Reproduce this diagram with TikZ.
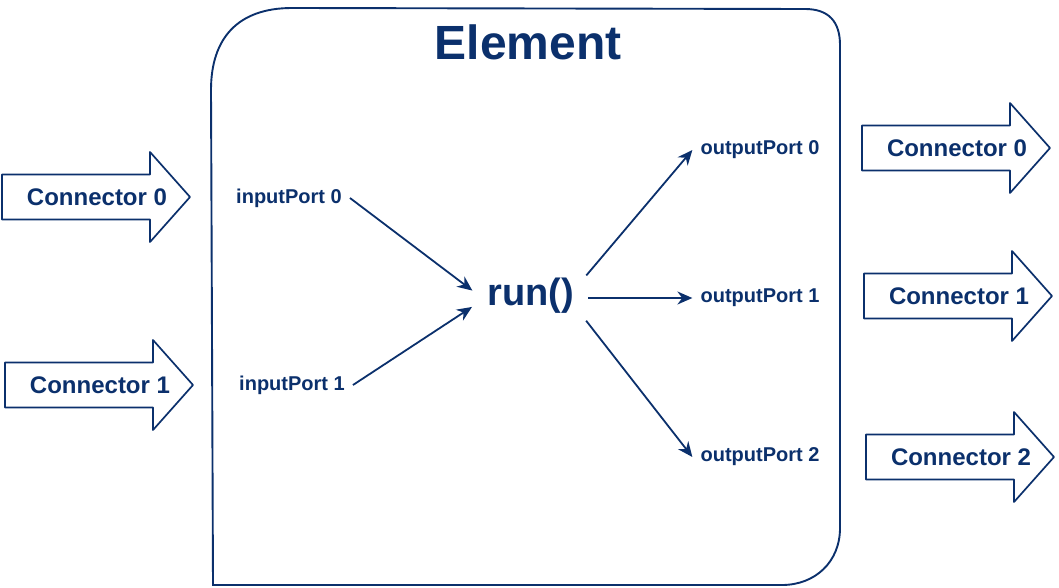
\documentclass[tikz,border=0pt]{standalone}
\usepackage{fontspec}
\setmainfont{Liberation Sans}
\usepackage{tikz}
\usetikzlibrary{arrows.meta}
\definecolor{navy}{RGB}{11,48,108}
\tikzset{
  port/.style={text=navy, font=\bfseries\fontsize{20}{24}\selectfont, inner sep=8pt},
  connlabel/.style={text=navy, font=\bfseries\fontsize{24}{28}\selectfont},
  flow/.style={draw=navy, line width=1.8pt, -{Stealth[length=15pt,width=13pt]}},
  bigarrow/.style={draw=navy, line width=1.7pt, line join=round, fill=white},
  frame/.style={draw=navy, line width=1.9pt}
}
\newcommand{\connarrow}[4]{%
  \draw[bigarrow] (#1,#2-22.5) -- (#1+148,#2-22.5) -- (#1+148,#2-45) -- (#1+188,#2) -- (#1+148,#2+45) -- (#1+148,#2+22.5) -- (#1,#2+22.5) -- cycle;
  \node[connlabel] (#3) at (#1+95,#2) {#4};
}

\begin{document}
\begin{tikzpicture}[x=1pt,y=-1pt]
\useasboundingbox (0,0) rectangle (1059,588);
\draw[frame] (213,585) -- (211,90) .. controls (211,38) and (238,8) .. (292,8) -- (805,9) .. controls (829,9) and (840,22) .. (840,45) -- (840,528) .. controls (840,562) and (815,585) .. (782,585) -- cycle;
\node[text=navy, font=\bfseries\fontsize{48}{56}\selectfont] (title) at (528,42) {Element};
\node[text=navy, font=\bfseries\fontsize{38}{44}\selectfont, inner sep=8pt] (run) at (531,296) {run()};
\node[port] (in0) at (289,198) {inputPort 0};
\node[port] (in1) at (292,385) {inputPort 1};
\node[port] (out0) at (760,150) {outputPort 0};
\node[port] (out1) at (760,298) {outputPort 1};
\node[port] (out2) at (760,457) {outputPort 2};
\draw[flow, shorten >=9pt] (in0.east) -- (run.west);
\draw[flow, shorten >=9pt] (in1.east) -- ([yshift=-6pt]run.west);
\draw[flow, shorten <=6pt] ([yshift=16pt]run.east) -- (out0.west);
\draw[flow, shorten <=6pt] ([yshift=-2pt]run.east) -- (out1.west);
\draw[flow, shorten <=6pt] ([yshift=-20pt]run.east) -- (out2.west);
\foreach \x/\y/\n/\t in {2/197/cin0/Connector 0, 5/385/cin1/Connector 1, 862/148/cout0/Connector 0, 864/296/cout1/Connector 1, 866/457/cout2/Connector 2}
  {\connarrow{\x}{\y}{\n}{\t}}
\end{tikzpicture}
\end{document}
